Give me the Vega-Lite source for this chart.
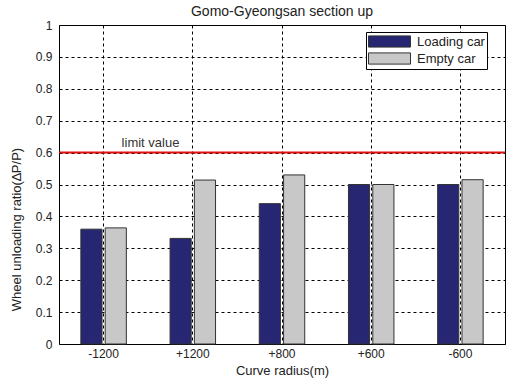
{
  "$schema": "https://vega.github.io/schema/vega-lite/v6.json",
  "autosize": "none",
  "width": 446,
  "height": 319,
  "padding": {"left": 59, "top": 25, "right": 2, "bottom": 39},
  "title": {"text": "Gomo-Gyeongsan section up", "fontSize": 14, "fontWeight": "normal", "font": "Liberation Sans", "color": "#222", "offset": 0},
  "config": {
    "font": "Liberation Sans",
    "view": {"stroke": "#000", "strokeWidth": 1},
    "axis": {"labelFont": "Liberation Sans", "titleFont": "Liberation Sans", "labelColor": "#222", "titleColor": "#222", "titleFontWeight": "normal", "domain": false}
  },
  "data": {"values": [
    {"radius": "-1200", "car": "Loading car", "ratio": 0.36},
    {"radius": "-1200", "car": "Empty car", "ratio": 0.364},
    {"radius": "+1200", "car": "Loading car", "ratio": 0.331},
    {"radius": "+1200", "car": "Empty car", "ratio": 0.514},
    {"radius": "+800", "car": "Loading car", "ratio": 0.44},
    {"radius": "+800", "car": "Empty car", "ratio": 0.53},
    {"radius": "+600", "car": "Loading car", "ratio": 0.5},
    {"radius": "+600", "car": "Empty car", "ratio": 0.5},
    {"radius": "-600", "car": "Loading car", "ratio": 0.5},
    {"radius": "-600", "car": "Empty car", "ratio": 0.515}
  ]},
  "encoding": {
    "y": {"field": "ratio", "type": "quantitative",
          "scale": {"domain": [0, 1]},
          "axis": {"title": "Wheel unloading ratio(∆P/P)", "values": [0, 0.1, 0.2, 0.3, 0.4, 0.5, 0.6, 0.7, 0.8, 0.9, 1], "format": "~g", "labelOverlap": false, "labelFontSize": 12, "titleFontSize": 13, "titleX": -36, "titleY": 204, "grid": true, "gridColor": "#000", "gridDash": [3, 3], "gridOpacity": 1, "ticks": false, "labelPadding": 7}}
  },
  "layer": [
    {
      "mark": {"type": "bar", "stroke": "#333", "strokeWidth": 1},
      "encoding": {
        "x": {"field": "radius", "type": "nominal", "sort": ["-1200", "+1200", "+800", "+600", "-600"],
              "scale": {"paddingInner": 0.49, "paddingOuter": 0.245},
              "axis": {"title": "Curve radius(m)", "labelAngle": 0, "labelFontSize": 12, "titleFontSize": 13, "grid": true, "gridColor": "#000", "gridDash": [3, 3], "gridOpacity": 1, "ticks": false, "labelPadding": 4, "titlePadding": 5, "bandPosition": 0.5}},
        "xOffset": {"field": "car", "type": "nominal", "sort": ["Loading car", "Empty car"], "scale": {"paddingInner": 0.13}},
        "color": {"field": "car", "type": "nominal", "sort": ["Loading car", "Empty car"],
                  "scale": {"domain": ["Loading car", "Empty car"], "range": ["#262673", "#c8c8c8"]},
                  "legend": {"title": null, "orient": "none", "legendX": 307, "legendY": 7, "direction": "vertical",
                             "symbolType": "M-3,-0.8H3V0.8H-3Z", "symbolSize": 196, "symbolOffset": 14, "symbolStrokeColor": "#333", "symbolStrokeWidth": 1, "symbolOpacity": 1,
                             "labelFontSize": 13, "labelColor": "#222", "labelOffset": 20, "rowPadding": 0, "padding": 2,
                             "strokeColor": "#000", "fillColor": "#fff"}}
      }
    },
    {
      "data": {"values": [{"ratio": 0.6}]},
      "mark": {"type": "rule", "color": "#e01010", "strokeWidth": 2},
      "encoding": {}
    },
    {
      "data": {"values": [{"ratio": 0.6, "label": "limit value", "radius": "-1200"}]},
      "mark": {"type": "text", "align": "left", "baseline": "alphabetic", "fontSize": 13, "color": "#333", "dx": 18, "dy": -6},
      "encoding": {
        "x": {"field": "radius", "type": "nominal", "sort": ["-1200", "+1200", "+800", "+600", "-600"]},
        "text": {"field": "label"}}
    }
  ]
}
